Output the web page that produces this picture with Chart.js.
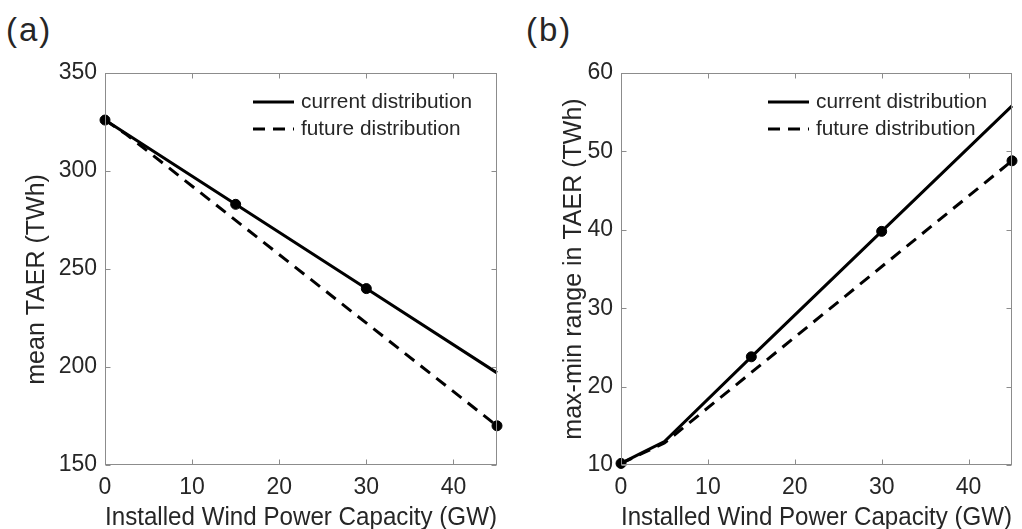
<!DOCTYPE html>
<html>
<head>
<meta charset="utf-8">
<script src="https://cdn.jsdelivr.net/npm/chart.js@4.4.1/dist/chart.umd.min.js"></script>
<style>
  html, body { margin: 0; padding: 0; background: #fff; overflow: hidden; width: 1022px; height: 529px; }
  .panel { position: absolute; top: 0; }
  .tag { position: absolute; top: 14px; font: 33px/32px "Liberation Sans", Arial, sans-serif; letter-spacing: 2px; color: #262626; }
</style>
</head>
<body>
<div class="tag" style="left:6px">(a)</div>
<div class="tag" style="left:526px">(b)</div>
<canvas id="chartA" class="panel" style="left:0" width="511" height="540"></canvas>
<canvas id="chartB" class="panel" style="left:511px" width="511" height="540"></canvas>
<script>
// tick labels
const xTicks = [0, 10, 20, 30, 40];
const meanTicks = [150, 200, 250, 300, 350];
const rangeTicks = [10, 20, 30, 40, 50, 60];

// (a) mean TAER
const meanCurrentX = [0, 15, 30, 45];
const meanCurrent = [326, 283, 240, 197];
const meanFutureX = [0, 2.5, 45];
const meanFuture = [326, 318.5, 170];
const meanMarkX = [0, 15, 30, 45];
const meanMarks = [326, 283, 240, 170];

// (b) max-min range
const rangeCurrentX = [0, 2.5, 5, 15, 30, 45];
const rangeCurrent = [10.2, 11.6, 13.0, 23.8, 39.8, 55.8];
const rangeFutureX = [0, 2.5, 5, 45];
const rangeFuture = [10.2, 11.5, 12.8, 48.8];
const rangeMarkX = [0, 15, 30, 45];
const rangeMarks = [10.2, 23.8, 39.8, 48.8];

const FONT = '"Liberation Sans", Arial, sans-serif';
const TEXT = '#262626';
Chart.defaults.font.family = FONT;

const pairs = (xs, ys) => xs.map((x, i) => ({ x: x, y: ys[i] }));

// box around the plot with inward tick marks on all four sides
const frame = {
    id: 'frame',
    afterDraw(chart) {
        const { ctx, chartArea: a, scales } = chart;
        const L = Math.round(a.left) + 0.5, R = Math.round(a.right) - 0.5;
        const T = Math.round(a.top) + 0.5, B = Math.round(a.bottom) - 0.5;
        ctx.save();
        ctx.strokeStyle = '#8c8c8c';
        ctx.lineWidth = 1;
        ctx.strokeRect(L, T, R - L, B - T);
        ctx.beginPath();
        scales.x.ticks.forEach(t => {
            const px = Math.round(scales.x.getPixelForValue(t.value)) + 0.5;
            ctx.moveTo(px, B); ctx.lineTo(px, B - 5);
            ctx.moveTo(px, T); ctx.lineTo(px, T + 5);
        });
        scales.y.ticks.forEach(t => {
            const py = Math.round(scales.y.getPixelForValue(t.value)) + 0.5;
            ctx.moveTo(L, py); ctx.lineTo(L + 5, py);
            ctx.moveTo(R, py); ctx.lineTo(R - 5, py);
        });
        ctx.stroke();
        ctx.restore();
    }
};

// legend drawn inside the plot, top right
const lineKey = {
    id: 'lineKey',
    afterDraw(chart) {
        const { ctx, chartArea: a } = chart;
        let row = 0;
        ctx.save();
        chart.data.datasets.forEach(ds => {
            if (!ds.inKey) return;
            const y = Math.round(a.top + 29 + row * 27);
            const x0 = a.right - 244;
            ctx.strokeStyle = ds.borderColor;
            ctx.lineWidth = ds.borderWidth;
            ctx.setLineDash(ds.borderDash || []);
            ctx.beginPath();
            ctx.moveTo(x0, y);
            ctx.lineTo(x0 + 41, y);
            ctx.stroke();
            ctx.setLineDash([]);
            ctx.fillStyle = TEXT;
            ctx.font = '20.8px ' + FONT;
            ctx.textBaseline = 'middle';
            ctx.fillText(ds.label, x0 + 48, y);
            row++;
        });
        ctx.restore();
    }
};

function makeChart(id, opt) {
    return new Chart(document.getElementById(id), {
        type: 'line',
        data: {
            datasets: [{
                label: 'current distribution',
                inKey: true,
                data: opt.current,
                borderColor: '#000',
                borderWidth: 3,
                pointRadius: 0,
                clip: false
            }, {
                label: 'future distribution',
                inKey: true,
                data: opt.future,
                borderColor: '#000',
                borderWidth: 3,
                borderDash: [12, 8],
                pointRadius: 0,
                clip: false
            }, {
                label: 'scenarios',
                data: opt.marks,
                showLine: false,
                pointRadius: 5,
                pointBackgroundColor: '#000',
                pointBorderColor: '#000',
                clip: false
            }]
        },
        options: {
            responsive: false,
            animation: false,
            layout: { padding: { top: 73, right: opt.padRight, left: 0, bottom: 0 } },
            plugins: { legend: { display: false }, tooltip: { enabled: false } },
            scales: {
                x: {
                    type: 'linear',
                    min: 0,
                    max: 45,
                    grid: { display: false, drawTicks: false },
                    border: { display: false },
                    afterBuildTicks: s => { s.ticks = xTicks.map(v => ({ value: v })); },
                    afterFit: s => { s.height = 540 - 465; },
                    ticks: { color: TEXT, font: { size: 23 }, padding: 9, maxRotation: 0 },
                    title: {
                        display: true,
                        text: 'Installed Wind Power Capacity (GW)',
                        color: TEXT,
                        font: { size: 25 },
                        padding: { top: 0, bottom: 7 }
                    }
                },
                y: {
                    type: 'linear',
                    min: opt.yTicks[0],
                    max: opt.yTicks[opt.yTicks.length - 1],
                    grid: { display: false, drawTicks: false },
                    border: { display: false },
                    afterBuildTicks: s => { s.ticks = opt.yTicks.map(v => ({ value: v })); },
                    afterFit: s => { s.width = opt.yWidth; },
                    ticks: { color: TEXT, font: { size: 23 }, padding: 8 },
                    title: {
                        display: true,
                        text: opt.yTitle,
                        color: TEXT,
                        font: { size: 25 },
                        padding: { top: opt.titlePad, bottom: 0 }
                    }
                }
            }
        },
        plugins: [frame, lineKey]
    });
}

makeChart('chartA', {
    current: pairs(meanCurrentX, meanCurrent),
    future: pairs(meanFutureX, meanFuture),
    marks: pairs(meanMarkX, meanMarks),
    yTicks: meanTicks,
    yTitle: 'mean TAER (TWh)   ',
    yWidth: 105,
    titlePad: 22,
    padRight: 14
});

makeChart('chartB', {
    current: pairs(rangeCurrentX, rangeCurrent),
    future: pairs(rangeFutureX, rangeFuture),
    marks: pairs(rangeMarkX, rangeMarks),
    yTicks: rangeTicks,
    yTitle: 'max-min range in TAER (TWh)',
    yWidth: 110,
    titlePad: 48,
    padRight: 10
});
</script>
</body>
</html>
